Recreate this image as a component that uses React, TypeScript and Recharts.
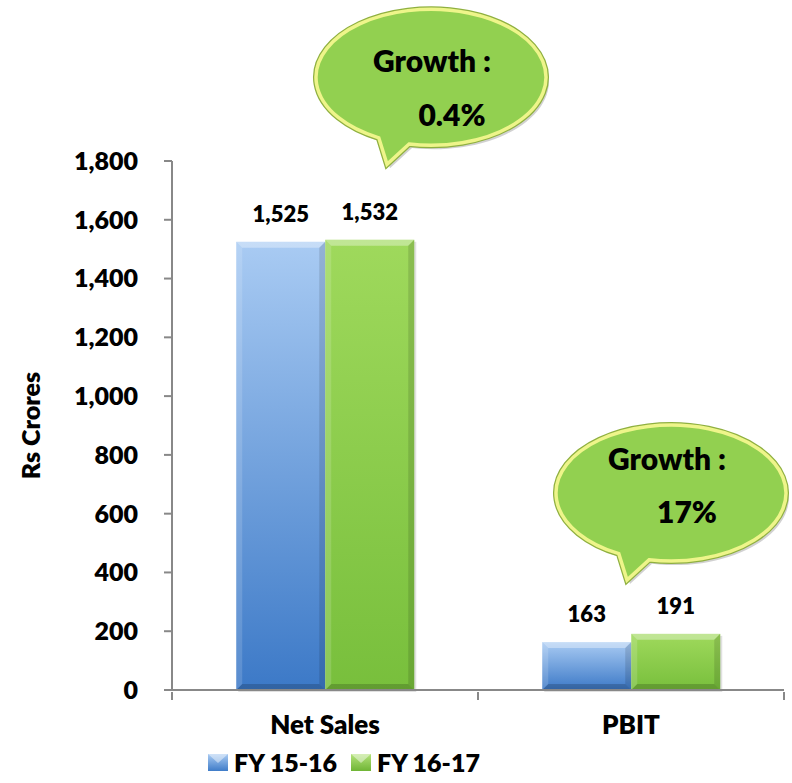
import React from "react";
import {
  BarChart,
  Bar,
  XAxis,
  YAxis,
  Legend,
  LabelList,
  ReferenceDot,
} from "recharts";

const categories = ["Net Sales", "PBIT"];
const fy1516 = [1525, 163];
const fy1617 = [1532, 191];
const seriesNames = ["FY 15-16", "FY 16-17"];
const yTicks = [0, 200, 400, 600, 800, 1000, 1200, 1400, 1600, 1800];
const growthValues = ["0.4%", "17%"];
// where each bubble sits, in Rs Crores
const bubbleLevels = [2085, 670];

const W = 792;
const H = 783;
const MARGIN = { top: 161, right: 8, left: 0, bottom: 0 };
const Y_WIDTH = 172;
const FONT = "Lato, 'Noto Sans', sans-serif";
const WEIGHT = 800;

const data = categories.map((name, i) => ({
  name,
  a: fy1516[i],
  b: fy1617[i],
}));

// per-bubble layout tweaks (pixels)
const bubbleLayout = [
  { dx: 106, t1: [1, -5], t2: [21, 49] },
  { dx: 40, t1: [-4, -23], t2: [16, 30] },
];

const fmt = (v: number) => v.toLocaleString("en-US");

function BevelBar(props: any) {
  const { x, y, width, height, gradId } = props;
  if (!height || height <= 0) return null;
  const b = Math.min(6, height / 3);
  return (
    <g>
      <rect x={x + 2} y={y + 2} width={width} height={height} fill="#000" opacity={0.12} />
      <rect x={x} y={y} width={width} height={height} fill={`url(#${gradId})`} />
      <polygon
        points={`${x},${y} ${x + width},${y} ${x + width - b},${y + b} ${x + b},${y + b}`}
        fill="#fff"
        opacity={0.35}
      />
      <polygon
        points={`${x},${y} ${x + b},${y + b} ${x + b},${y + height - b} ${x},${y + height}`}
        fill="#fff"
        opacity={0.15}
      />
      <polygon
        points={`${x + width},${y} ${x + width - b},${y + b} ${x + width - b},${y + height - b} ${x + width},${y + height}`}
        fill="#000"
        opacity={0.12}
      />
      <polygon
        points={`${x},${y + height} ${x + b},${y + height - b} ${x + width - b},${y + height - b} ${x + width},${y + height}`}
        fill="#000"
        opacity={0.18}
      />
    </g>
  );
}

function bubblePath(cx: number, cy: number) {
  const rx = 115;
  const ry = 68;
  const pt = (deg: number) => {
    const r = (deg * Math.PI) / 180;
    return [cx + rx * Math.cos(r), cy + ry * Math.sin(r)];
  };
  const [x1, y1] = pt(117);
  const [x2, y2] = pt(101);
  const tip = [cx - 44, cy + 87];
  return `M${x1},${y1} A${rx},${ry} 0 1 1 ${x2},${y2} L${tip[0]},${tip[1]} Z`;
}

function makeBubble(i: number) {
  return (props: any) => {
    const { cx, cy } = props;
    const lay = bubbleLayout[i];
    const bx = cx + lay.dx;
    const d = bubblePath(bx, cy);
    return (
      <g>
        <path d={d} transform="translate(3,4)" fill="#000" opacity={0.18} />
        <path d={d} fill="#92d050" stroke="#8fb040" strokeWidth={6} />
        <path d={d} fill="#92d050" stroke="#eef58a" strokeWidth={3.5} />
        <text
          x={bx + lay.t1[0]}
          y={cy + lay.t1[1]}
          textAnchor="middle"
          fontFamily={FONT}
          fontWeight={WEIGHT}
          fontSize={30}
          fill="#000"
        >
          Growth :
        </text>
        <text
          x={bx + lay.t2[0]}
          y={cy + lay.t2[1]}
          textAnchor="middle"
          fontFamily={FONT}
          fontWeight={WEIGHT}
          fontSize={30}
          fill="#000"
        >
          {growthValues[i]}
        </text>
      </g>
    );
  };
}

function CategoryTick(props: any) {
  const { x, y, payload, index, visibleTicksCount } = props;
  const plotW = W - MARGIN.left - MARGIN.right - Y_WIDTH;
  const half = plotW / categories.length / 2;
  const last = index === visibleTicksCount - 1;
  return (
    <g>
      <line x1={x - half} y1={y} x2={x - half} y2={y + 8} stroke="#888" strokeWidth={2} />
      {last && (
        <line x1={x + half} y1={y} x2={x + half} y2={y + 8} stroke="#888" strokeWidth={2} />
      )}
      <text
        x={x}
        y={y + 42}
        textAnchor="middle"
        fontFamily={FONT}
        fontWeight={WEIGHT}
        fontSize={26}
        fill="#000"
      >
        {payload.value}
      </text>
    </g>
  );
}

function LegendIcon({ from, to }: { from: string; to: string }) {
  return (
    <svg width={20} height={17} style={{ marginRight: 6, display: "block" }}>
      <defs>
        <linearGradient id={`lg-${from}`} x1="0" y1="0" x2="0" y2="1">
          <stop offset="0%" stopColor={from} />
          <stop offset="100%" stopColor={to} />
        </linearGradient>
      </defs>
      <rect x={0} y={0} width={20} height={17} fill={`url(#lg-${from})`} />
      <polygon points="0,0 20,0 10,9" fill="#fff" opacity={0.45} />
    </svg>
  );
}

function LegendContent() {
  const items = [
    { name: seriesNames[0], from: "#a9cbf3", to: "#3f7cc8" },
    { name: seriesNames[1], from: "#b4e27a", to: "#6fb535" },
  ];
  return (
    <div
      style={{
        display: "flex",
        alignItems: "center",
        paddingLeft: 208,
        paddingTop: 10,
        height: 26,
        fontFamily: FONT,
        fontWeight: WEIGHT,
        fontSize: 25,
        lineHeight: "26px",
        color: "#000",
      }}
    >
      {items.map((it) => (
        <div key={it.name} style={{ display: "flex", alignItems: "center", marginRight: 14 }}>
          <LegendIcon from={it.from} to={it.to} />
          <span>{it.name}</span>
        </div>
      ))}
    </div>
  );
}

export default function App() {
  return (
    <div style={{ position: "absolute", left: 0, top: 0, width: W, height: H, background: "#fff" }}>
      <BarChart
        width={W}
        height={H}
        data={data}
        margin={MARGIN}
        barCategoryGap="21%"
        barGap={0}
      >
        <defs>
          <linearGradient id="gBlue" x1="0" y1="0" x2="0" y2="1">
            <stop offset="0%" stopColor="#a9cbf3" />
            <stop offset="100%" stopColor="#3c79c7" />
          </linearGradient>
          <linearGradient id="gGreen" x1="0" y1="0" x2="0" y2="1">
            <stop offset="0%" stopColor="#9fd95c" />
            <stop offset="100%" stopColor="#78bf3c" />
          </linearGradient>
        </defs>
        <XAxis
          dataKey="name"
          height={53}
          axisLine={{ stroke: "#888", strokeWidth: 2 }}
          tickLine={false}
          tickSize={0}
          tick={<CategoryTick />}
          interval={0}
        />
        <YAxis
          width={Y_WIDTH}
          domain={[0, 1800]}
          ticks={yTicks}
          interval={0}
          tickFormatter={fmt}
          axisLine={{ stroke: "#888", strokeWidth: 2 }}
          tickLine={{ stroke: "#888", strokeWidth: 2 }}
          tickSize={8}
          tickMargin={26}
          tick={{ fontFamily: FONT, fontWeight: WEIGHT, fontSize: 25, fill: "#000" }}
          label={{
            content: (p: any) => {
              const vb = p.viewBox;
              const cx = 30;
              const cy = vb.y + vb.height / 2;
              return (
                <text
                  x={cx}
                  y={cy}
                  transform={`rotate(-90 ${cx} ${cy})`}
                  textAnchor="middle"
                  dominantBaseline="central"
                  fontFamily={FONT}
                  fontWeight={WEIGHT}
                  fontSize={25}
                  fill="#000"
                >
                  Rs Crores
                </text>
              );
            },
          }}
        />
        <Legend
          verticalAlign="bottom"
          height={40}
          wrapperStyle={{ bottom: 4 }}
          content={<LegendContent />}
        />
        <Bar
          dataKey="a"
          name={seriesNames[0]}
          shape={(p: any) => <BevelBar {...p} gradId="gBlue" />}
          isAnimationActive={false}
        >
          <LabelList
            dataKey="a"
            position="top"
            offset={20}
            formatter={(v: any) => fmt(v)}
            style={{ fontFamily: FONT, fontWeight: WEIGHT, fontSize: 22, fill: "#000" }}
          />
        </Bar>
        <Bar
          dataKey="b"
          name={seriesNames[1]}
          shape={(p: any) => <BevelBar {...p} gradId="gGreen" />}
          isAnimationActive={false}
        >
          <LabelList
            dataKey="b"
            position="top"
            offset={20}
            formatter={(v: any) => fmt(v)}
            style={{ fontFamily: FONT, fontWeight: WEIGHT, fontSize: 22, fill: "#000" }}
          />
        </Bar>
        {categories.map((c, i) => (
          <ReferenceDot
            key={c}
            x={c}
            y={bubbleLevels[i]}
            r={1}
            ifOverflow="visible"
            shape={makeBubble(i)}
          />
        ))}
      </BarChart>
    </div>
  );
}
